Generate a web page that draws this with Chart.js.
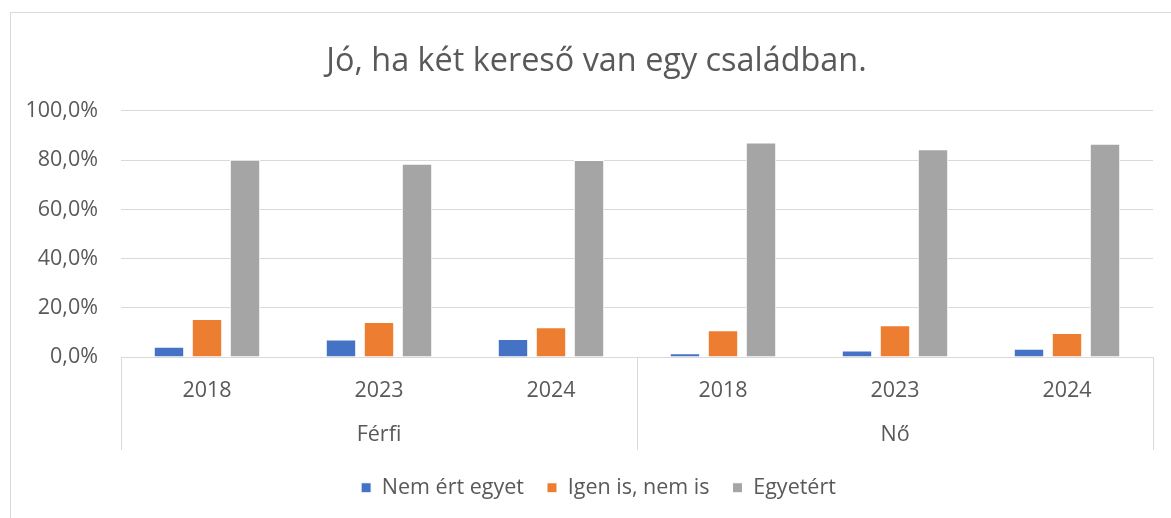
<!DOCTYPE html>
<html>
<head>
<meta charset="utf-8">
<script src="https://cdn.jsdelivr.net/npm/chart.js@4.4.1/dist/chart.umd.min.js"></script>
<style>
  html, body { margin: 0; padding: 0; background: #fff; overflow: hidden; }
  #wrap { position: relative; width: 1171px; height: 518px; }
  #frame { position: absolute; left: 10px; top: 12px; width: 1200px; height: 600px; border: 1px solid #d9d9d9; }
  canvas { position: absolute; left: 0; top: 0; }
</style>
</head>
<body>
<div id="wrap">
  <div id="frame"></div>
  <canvas id="chartKereso" width="1171" height="518"></canvas>
</div>
<script>
const years = ['2018', '2023', '2024', '2018', '2023', '2024'];
const groups = ['Férfi', 'Nő'];
const nemErtEgyet = [4.2, 7.1, 7.3, 1.5, 2.6, 3.4];
const igenIsNemIs = [15.4, 14.2, 12.1, 10.9, 12.9, 9.8];
const egyetert = [80.2, 78.6, 80.1, 87.2, 84.4, 86.7];
const yTicks = [0, 20, 40, 60, 80, 100];

const textColor = '#595959';
const fontFamily = '"Open Sans", sans-serif';
const fontSize = 21.5;

// group separator lines under the axis
const groupLines = {
  id: 'groupLines',
  afterDraw(chart) {
    const ctx = chart.ctx;
    const x = chart.scales.x;
    const x2 = chart.scales.x2;
    const area = chart.chartArea;
    const n = years.length;
    const step = (x.right - x.left) / n;
    ctx.save();
    ctx.strokeStyle = '#d9d9d9';
    ctx.lineWidth = 1;
    [0, 3, 6].forEach(i => {
      const px = Math.round(x.left + step * i) + 0.5;
      ctx.beginPath();
      ctx.moveTo(px, area.bottom);
      ctx.lineTo(px, x2.bottom + 2);
      ctx.stroke();
    });
    ctx.restore();
  }
};

// legend height + small nudges of title/legend to sit like the original
const boxNudge = {
  id: 'boxNudge',
  beforeInit(chart) {
    const fit = chart.legend.fit;
    chart.legend.fit = function () {
      fit.bind(chart.legend)();
      this.height = 63;
    };
  },
  afterLayout(chart) {
    const lg = chart.legend;
    lg.left += 17; lg.right += 17;
    lg.top += 6; lg.bottom += 6;
    const tt = chart.titleBlock;
    tt.left += 15; tt.right += 15;
  }
};

const chartKereso = document.getElementById('chartKereso');

new Chart(chartKereso, {
  type: 'bar',
  data: {
    labels: years,
    datasets: [{
      label: 'Nem ért egyet',
      data: nemErtEgyet,
      backgroundColor: '#4472c4',
      borderColor: '#ffffff',
      borderWidth: 1
    }, {
      label: 'Igen is, nem is',
      data: igenIsNemIs,
      backgroundColor: '#ed7d31',
      borderColor: '#ffffff',
      borderWidth: 1
    }, {
      label: 'Egyetért',
      data: egyetert,
      backgroundColor: '#a5a5a5',
      borderColor: '#ffffff',
      borderWidth: 1
    }]
  },
  plugins: [groupLines, boxNudge],
  options: {
    responsive: false,
    animation: false,
    events: [],
    categoryPercentage: 0.663,
    barPercentage: 0.8,
    layout: {
      padding: { left: 10, right: 18, top: 0, bottom: 7 }
    },
    plugins: {
      title: {
        display: true,
        text: 'Jó, ha két kereső van egy családban.',
        color: textColor,
        font: { family: fontFamily, size: 32.4, weight: 'normal' },
        padding: { top: 42.6, bottom: 29.5 }
      },
      legend: {
        position: 'bottom',
        labels: {
          color: textColor,
          font: { family: fontFamily, size: fontSize },
          boxWidth: 10,
          boxHeight: 10,
          padding: 23
        }
      },
      tooltip: { enabled: false }
    },
    scales: {
      x: {
        position: 'bottom',
        grid: { display: false, drawTicks: false },
        border: { display: false },
        ticks: {
          color: textColor,
          font: { family: fontFamily, size: fontSize },
          padding: 21,
          maxRotation: 0
        },
        afterFit(scale) { scale.height = 50; }
      },
      x2: {
        position: 'bottom',
        type: 'category',
        labels: groups,
        grid: { display: false, drawTicks: false },
        border: { display: false },
        ticks: {
          color: textColor,
          font: { family: fontFamily, size: fontSize },
          padding: 15,
          maxRotation: 0
        },
        afterFit(scale) { scale.height = 41; }
      },
      y: {
        min: 0,
        max: 100,
        afterBuildTicks(scale) {
          scale.ticks = yTicks.map(v => ({ value: v }));
        },
        grid: { color: '#d9d9d9', drawTicks: false },
        border: { display: false },
        ticks: {
          color: textColor,
          font: { family: fontFamily, size: fontSize },
          padding: 23,
          callback: v => v.toFixed(1).replace('.', ',') + '%'
        },
        afterFit(scale) { scale.width = 111; }
      }
    }
  }
});
</script>
</body>
</html>
